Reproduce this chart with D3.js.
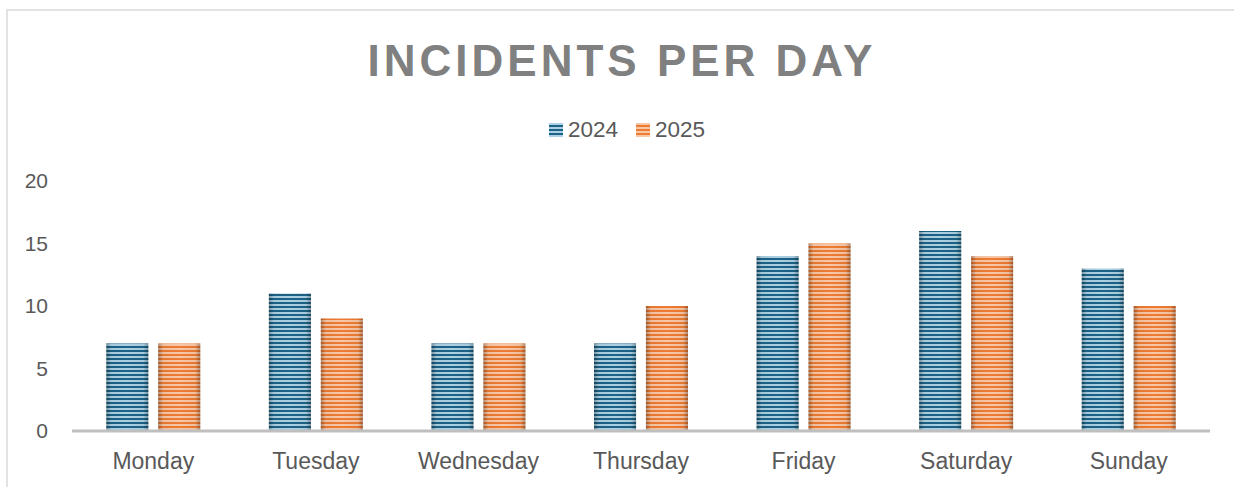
<!DOCTYPE html>
<html>
<head>
    <title>Incidents per day</title>
    <meta charset="utf-8" />
    <script src="https://cdn.jsdelivr.net/npm/d3@7/dist/d3.min.js"></script>
    <style>
        body { margin: 0; background: #fff; font-family: "Liberation Sans", Arial, sans-serif; }
    </style>
</head>
<body>
    <script>
        var days = ["Monday", "Tuesday", "Wednesday", "Thursday", "Friday", "Saturday", "Sunday"];
        var series = ["2024", "2025"];
        var values2024 = [7, 11, 7, 7, 14, 16, 13];
        var values2025 = [7, 9, 7, 10, 15, 14, 10];
        var yTicks = [0, 5, 10, 15, 20];

        var width = 1234;
        var height = 487;
        var margin = { top: 181, right: 24, bottom: 56, left: 72 };

        var dark = { "2024": "#1d6387", "2025": "#ee7b33" };
        var light = { "2024": "#acd1e4", "2025": "#f8c7a6" };

        var svg = d3.select("body")
            .append("svg")
            .attr("width", width)
            .attr("height", height);

        var defs = svg.append("defs");
        series.forEach(function (s) {
            var p = defs.append("pattern")
                .attr("id", "stripe" + s)
                .attr("patternUnits", "userSpaceOnUse")
                .attr("width", 8)
                .attr("height", 4);
            p.append("rect").attr("width", 8).attr("height", 4).attr("fill", light[s]);
            p.append("rect").attr("y", 2).attr("width", 8).attr("height", 2).attr("fill", dark[s]);
        });
        var edge = defs.append("linearGradient").attr("id", "edge");
        [[0, 0.3], [0.12, 0.04], [0.5, 0], [0.88, 0.04], [1, 0.3]].forEach(function (st) {
            edge.append("stop").attr("offset", st[0]).attr("stop-color", "#000").attr("stop-opacity", st[1]);
        });

        // chart border
        svg.append("rect")
            .attr("x", 7).attr("y", 10)
            .attr("width", width).attr("height", height)
            .attr("fill", "none")
            .attr("stroke", "#d9d9d9")
            .attr("stroke-width", 1.5);

        svg.append("text")
            .attr("x", 622)
            .attr("y", 76)
            .attr("text-anchor", "middle")
            .attr("fill", "#808080")
            .style("font-size", "44px")
            .style("font-weight", "bold")
            .style("letter-spacing", "4px")
            .text("INCIDENTS PER DAY");

        var x = d3.scaleBand()
            .domain(days)
            .range([margin.left, width - margin.right]);

        var x1 = d3.scaleBand()
            .domain(series)
            .range([x.bandwidth() / 2 - 47, x.bandwidth() / 2 + 47])
            .paddingInner(0.19);

        var y = d3.scaleLinear()
            .domain([0, 20])
            .range([height - margin.bottom, margin.top]);

        var rows = days.map(function (d, i) {
            return { day: d, "2024": values2024[i], "2025": values2025[i] };
        });

        var groups = svg.selectAll(".day")
            .data(rows).enter()
            .append("g")
            .attr("class", "day")
            .attr("transform", function (d) { return "translate(" + x(d.day) + ",0)"; });

        series.forEach(function (s) {
            groups.append("rect")
                .attr("x", x1(s))
                .attr("y", function (d) { return y(d[s]); })
                .attr("width", x1.bandwidth())
                .attr("height", function (d) { return y(0) - y(d[s]); })
                .attr("fill", "url(#stripe" + s + ")");
            groups.append("rect")
                .attr("x", x1(s))
                .attr("y", function (d) { return y(d[s]); })
                .attr("width", x1.bandwidth())
                .attr("height", function (d) { return y(0) - y(d[s]); })
                .attr("fill", "url(#edge)");
        });

        // y axis labels
        var yAxis = svg.append("g")
            .attr("transform", "translate(" + (margin.left - 24) + ",0)")
            .call(d3.axisLeft(y).tickValues(yTicks).tickSize(0).tickPadding(0));
        yAxis.select(".domain").remove();
        yAxis.selectAll("text")
            .attr("fill", "#595959")
            .style("font-size", "21px")
            .style("font-family", "Liberation Sans, Arial, sans-serif");

        // baseline
        svg.append("line")
            .attr("x1", margin.left).attr("x2", width - margin.right)
            .attr("y1", y(0)).attr("y2", y(0))
            .attr("stroke", "#bfbfbf")
            .attr("stroke-width", 3);

        var xAxis = svg.append("g")
            .attr("transform", "translate(0," + y(0) + ")")
            .call(d3.axisBottom(x).tickSize(0).tickPadding(22));
        xAxis.select(".domain").remove();
        xAxis.selectAll("text")
            .attr("fill", "#595959")
            .style("font-size", "23px")
            .style("font-family", "Liberation Sans, Arial, sans-serif");

        // legend
        var legend = svg.selectAll(".legend")
            .data(series).enter()
            .append("g")
            .attr("class", "legend")
            .attr("transform", function (d, i) { return "translate(" + (549 + i * 87) + ",123)"; });
        legend.append("rect")
            .attr("width", 14).attr("height", 14)
            .attr("fill", function (d) { return "url(#stripe" + d + ")"; });
        legend.append("text")
            .attr("x", 19)
            .attr("y", 14)
            .attr("fill", "#595959")
            .style("font-size", "22.5px")
            .text(function (d) { return d; });
    </script>
</body>
</html>
